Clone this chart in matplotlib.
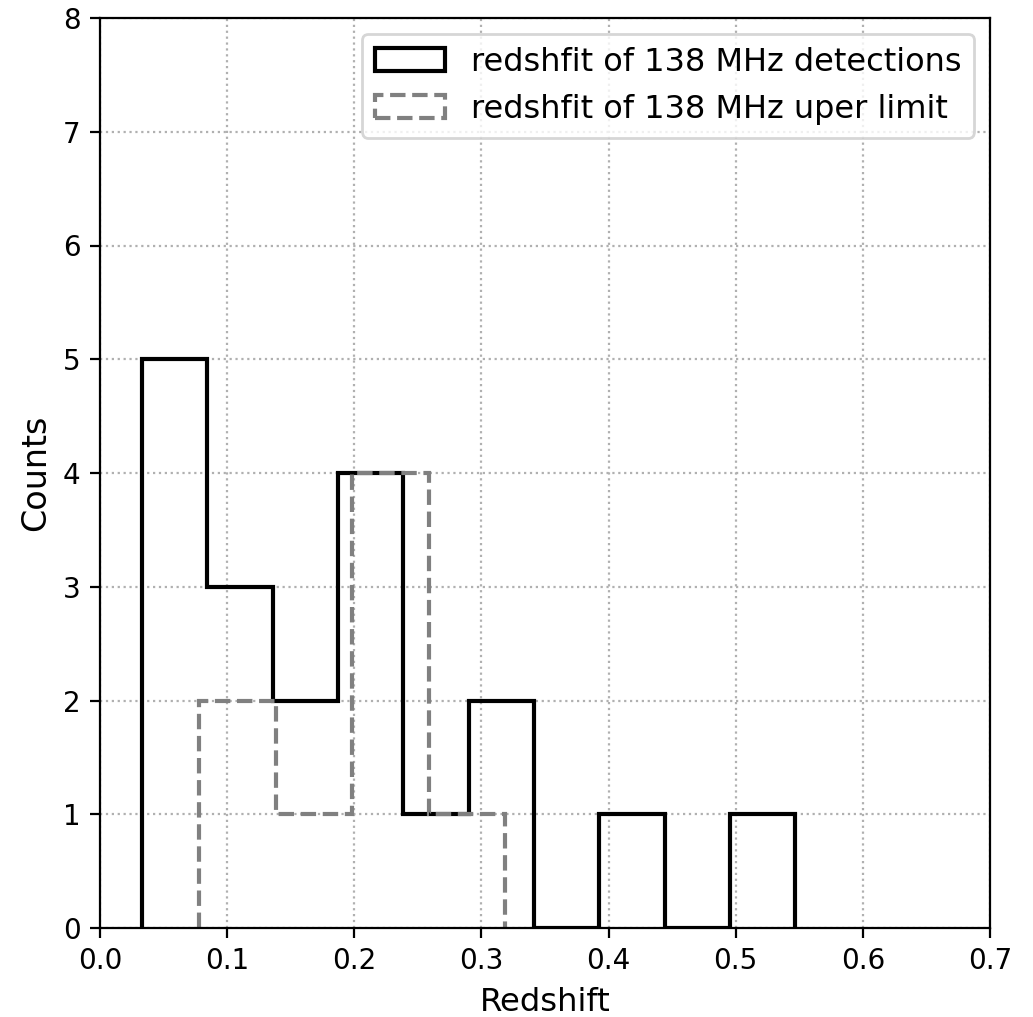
import numpy as np
import matplotlib
matplotlib.use('Agg')
import matplotlib.pyplot as plt

# histogram bin edges and counts
det_edges = [0.033, 0.0844, 0.1358, 0.1872, 0.2386, 0.2900, 0.3414, 0.3928, 0.4442, 0.4956, 0.5470]
det_counts = [5, 3, 2, 4, 1, 2, 0, 1, 0, 1]

ul_edges = [0.0779, 0.1381, 0.1983, 0.2585, 0.3187]
ul_counts = [2, 1, 4, 1]

fig = plt.figure(figsize=(5.165, 5.085), dpi=200)
ax = fig.add_axes([100/1033, 89/1017, 890/1033, 910/1017])

ax.hist(det_edges[:-1], bins=det_edges, weights=det_counts, histtype='step',
        color='k', lw=1.5, label='redshfit of 138 MHz detections')
ax.hist(ul_edges[:-1], bins=ul_edges, weights=ul_counts, histtype='step',
        color='gray', lw=1.5, ls='--', label='redshfit of 138 MHz uper limit')

ax.set_xlim(0, 0.7)
ax.set_ylim(0, 8)
ax.set_xticks(np.arange(0, 0.71, 0.1))
ax.set_yticks(range(0, 9))
ax.grid(True, ls=':', lw=0.8)
ax.set_xlabel('Redshift', fontsize=11.6)
ax.set_ylabel('Counts', fontsize=12)
ax.legend(loc='upper right', fontsize=11.5, handlelength=2.2)

fig.savefig('out.png', dpi=200)
